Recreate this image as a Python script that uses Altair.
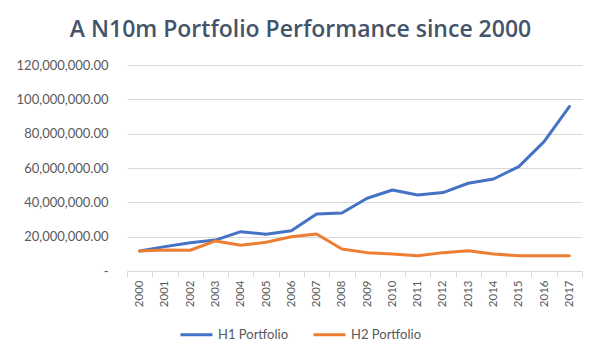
import altair as alt
import pandas as pd

years = [str(y) for y in range(2000, 2018)]
h1 = [11.7, 14.2, 16.5, 18.0, 22.9, 21.4, 23.5, 33.2, 33.8, 42.4, 47.2, 44.3, 45.7, 51.1, 53.6, 60.8, 75.4, 95.8]
h2 = [11.7, 12.2, 12.1, 17.5, 15.0, 16.7, 20.0, 21.6, 12.8, 10.7, 9.9, 8.9, 10.7, 11.8, 9.9, 8.9, 8.9, 8.9]
series = ["H1 Portfolio", "H2 Portfolio"]
colors = ["#4472C4", "#ED7D31"]

rows = []
for i, y in enumerate(years):
    rows.append({"Year": y, "Series": series[0], "Value": h1[i] * 1e6})
    rows.append({"Year": y, "Series": series[1], "Value": h2[i] * 1e6})
df = pd.DataFrame(rows)

FONT = "Lato"

chart = alt.Chart(df).mark_line(strokeWidth=3, strokeCap="round", strokeJoin="round").encode(
    x=alt.X("Year:N", sort=years, title=None,
            scale=alt.Scale(paddingInner=0, paddingOuter=0),
            axis=alt.Axis(labelAngle=270, labelFontSize=11.5, labelColor="#595959", labelFont=FONT,
                          domainColor="#D9D9D9", tickColor="#D9D9D9", tickSize=6,
                          tickBand="extent", grid=False, labelPadding=3)),
    y=alt.Y("Value:Q", title=None,
            scale=alt.Scale(domain=[0, 120000000], nice=False),
            axis=alt.Axis(values=[0, 20000000, 40000000, 60000000, 80000000, 100000000, 120000000],
                          labelExpr="datum.value == 0 ? '-\u00a0\u00a0\u00a0' : format(datum.value, ',.2f')",
                          labelFontSize=13, labelColor="#595959", labelFont=FONT,
                          domain=False, ticks=False, gridColor="#D9D9D9", labelPadding=19)),
    color=alt.Color("Series:N", scale=alt.Scale(domain=series, range=colors),
                    legend=alt.Legend(title=None, orient="none", direction="horizontal",
                                      legendX=52, legendY=252, symbolType="stroke",
                                      symbolSize=1024, symbolStrokeWidth=3,
                                      labelFontSize=13, labelColor="#595959", labelFont=FONT,
                                      columnPadding=18, labelOffset=4)),
).properties(
    width=455, height=206,
    autosize=alt.AutoSizeParams(type="none"),
    padding={"left": 119, "top": 57, "right": 10, "bottom": 80},
    title=alt.TitleParams("A N10m Portfolio Performance since 2000", fontSize=23, font="Open Sans",
                          fontWeight=600, color="#44546A", anchor="middle", dx=-54, offset=17),
).configure_view(stroke=None)

chart.save("out.html", embed_options={"renderer": "svg", "actions": False})
